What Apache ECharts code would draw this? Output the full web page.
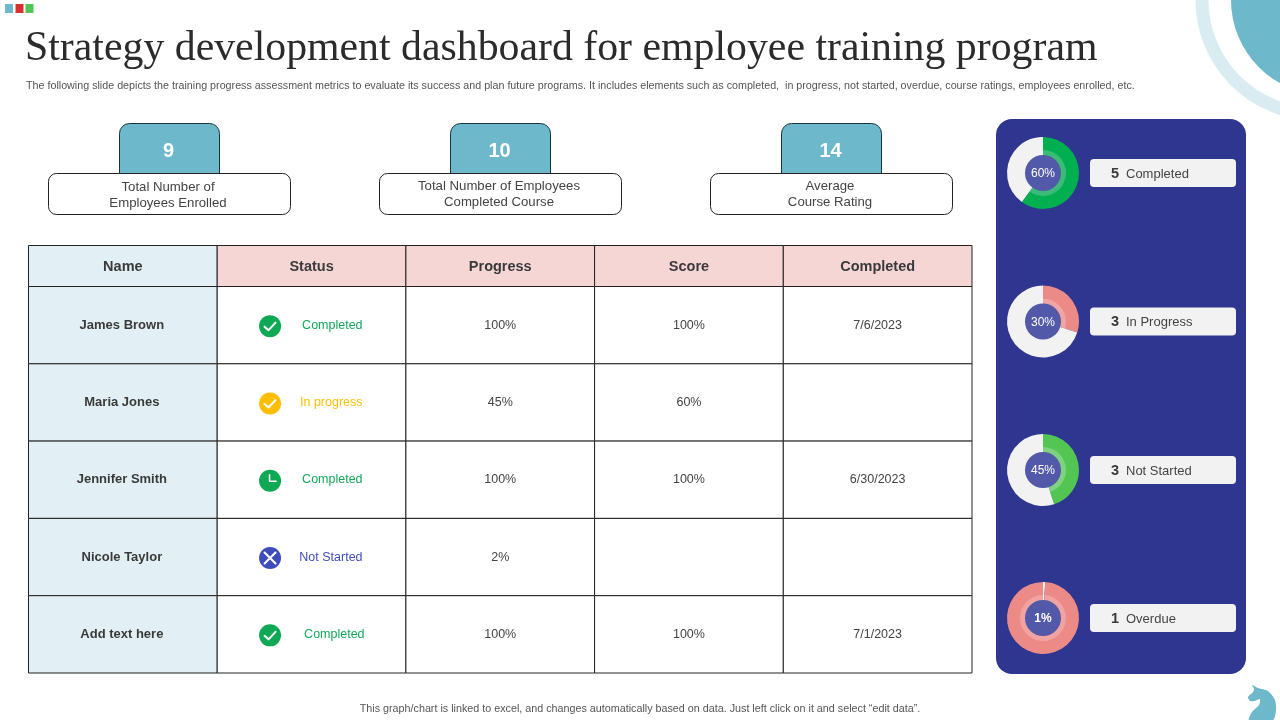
<!DOCTYPE html>
<html><head><meta charset="utf-8">
<style>html,body{margin:0;padding:0;background:#fff}#c{width:1280px;height:720px}</style>
<script src="https://cdn.jsdelivr.net/npm/echarts@6/dist/echarts.min.js"></script>
</head><body><div id="c"></div>
<script>
const titleText = 'Strategy development dashboard for employee training program';
const subtitleText = 'The following slide depicts the training progress assessment metrics to evaluate its success and plan future programs. It includes elements such as completed,  in progress, not started, overdue, course ratings, employees enrolled, etc.';
const footerText = 'This graph/chart is linked to excel, and changes automatically based on data. Just left click on it and select \u201cedit data\u201d.';
const kpiValues = ['9', '10', '14'];
const kpiLabels = ['Total Number of\nEmployees Enrolled', 'Total Number of Employees\nCompleted Course', 'Average\nCourse Rating'];
const columns = ['Name', 'Status', 'Progress', 'Score', 'Completed'];
const names = ['James Brown', 'Maria Jones', 'Jennifer Smith', 'Nicole Taylor', 'Add text here'];
const statuses = ['Completed', 'In progress', 'Completed', 'Not Started', 'Completed'];
const statusIcons = ['check', 'check', 'clock', 'cross', 'check'];
const progress = ['100%', '45%', '100%', '2%', '100%'];
const scores = ['100%', '60%', '100%', '', '100%'];
const dates = ['7/6/2023', '', '6/30/2023', '', '7/1/2023'];
const donutPct = [60, 30, 45, 1];
const donutCounts = [5, 3, 3, 1];
const donutNames = ['Completed', 'In Progress', 'Not Started', 'Overdue'];

const FONT = '"Liberation Sans", Arial, sans-serif';
const statusColor = {'Completed':'#12a85a','In progress':'#ffbf00','Not Started':'#3f4dbb'};
const TEAL = '#6db8cb';
const LINE = '#222222';

const chart = echarts.init(document.getElementById('c'), null, {renderer:'canvas', width:1280, height:720});

function iconChildren(kind, cx, cy, fill){
  const kids = [{type:'circle', shape:{cx, cy, r:11}, style:{fill}}];
  const st = {fill:'none', stroke:'#fff', lineWidth:2, lineCap:'round', lineJoin:'round'};
  if(kind==='check') kids.push({type:'polyline', shape:{points:[[cx-5.5,cy+0.5],[cx-1.5,cy+4],[cx+5.5,cy-3.5]]}, style:st});
  if(kind==='clock') kids.push({type:'polyline', shape:{points:[[cx-0.5,cy-6],[cx-0.5,cy+0.5],[cx+6,cy+0.5]]}, style:{...st,lineWidth:1.6}});
  if(kind==='cross'){
    kids.push({type:'line', shape:{x1:cx-5.5,y1:cy-5.5,x2:cx+5.5,y2:cy+5.5}, style:st});
    kids.push({type:'line', shape:{x1:cx-5.5,y1:cy+5.5,x2:cx+5.5,y2:cy-5.5}, style:st});
  }
  return kids;
}

const bodyCells = [];
names.forEach((n,r)=>{
  [n, statuses[r], progress[r], scores[r], dates[r]].forEach((v,c)=>{
    bodyCells.push([columns[c], String(r), v, r]);
  });
});
const headCells = columns.map(c=>[c,'h',c,0]);

function renderCell(isHead){
  return function(params, api){
    const col = api.value(0), row = api.value(1);
    const p = api.coord([col,row]);
    const s = api.size([1,1]);
    const x = p[0]-s[0]/2, y = p[1]-s[1]/2;
    const colIdx = col;
    const txt = (isHead?headCells:bodyCells)[params.dataIndex][2];
    const rowIdx = (isHead?0:bodyCells[params.dataIndex][3]);
    let fill = '#ffffff';
    if(isHead) fill = colIdx===0 ? '#e2f0f5' : '#f6d5d5';
    else if(colIdx===0) fill = '#e2f0f5';
    const kids = [{type:'rect', shape:{x,y,width:s[0],height:s[1]}, style:{fill, stroke:LINE, lineWidth:1}}];
    if(!isHead && colIdx===1){
      const col0 = statusColor[txt];
      kids.push(...iconChildren(statusIcons[rowIdx], p[0]-41.5, p[1]+1, col0==='#12a85a'?'#0fa855':col0));
      kids.push({type:'text', style:{text:txt, x:p[0]+51+(rowIdx===4?2:0), y:p[1], align:'right', verticalAlign:'middle', fill:col0, font:'12.5px '+FONT}});
    } else if(txt){
      const bold = isHead || colIdx===0;
      kids.push({type:'text', style:{text:txt, x:p[0]+(isHead?0:(colIdx===0?-1:0)), y:p[1]+(isHead?1:0), align:'center', verticalAlign:'middle',
        fill: bold?'#3a3a3a':'#444444', font:(bold?'bold ':'')+(isHead?'14.5px ':(colIdx===0?'13px ':'12.5px '))+FONT}});
    }
    return {type:'group', children:kids};
  };
}

const donutColors = [
  {main:'#00b050', ring:'#3cbb78', rest:'#f2f2f2'},
  {main:'#ec8a87', ring:'#eea5a3', rest:'#f2f2f2'},
  {main:'#52c552', ring:'#7fd27f', rest:'#f2f2f2'},
  {main:'#f2f2f2', ring:'#f2f2f2', rest:'#ec8a87', restRing:'#f0a3a1'}
];
const donutY = [173, 321.5, 470, 618];
const donutSeries = [];
donutPct.forEach((v,i)=>{
  const c = donutColors[i];
  const center = [1043, donutY[i]];
  const base = {type:'pie', center, startAngle:90, clockwise:true, silent:true, animation:false, label:{show:false}, labelLine:{show:false}, z:5};
  donutSeries.push({...base, radius:[22,36], data:[
    {value:v, itemStyle:{color:c.main}},{value:100-v, itemStyle:{color:c.rest}}]});
  donutSeries.push({...base, radius:[17,23], data:[
    {value:v, itemStyle:{color:c.ring}},{value:100-v, itemStyle:{color:c.restRing||c.rest}}]});
  donutSeries.push({...base, radius:[0,18], z:6, data:[{value:v, itemStyle:{color:'#5159a8'}}],
    label:{show:true, position:'center', offset:[0,1], formatter:v+'%', color:'#fff', fontFamily:FONT, fontSize:12, fontWeight:i===3?'bold':'normal', textBorderWidth:0}});
});

const graphics = [
  {type:'rect', shape:{x:5,y:4,width:8,height:9}, style:{fill:TEAL}},
  {type:'rect', shape:{x:15.5,y:4,width:8,height:9}, style:{fill:'#d9302f'}},
  {type:'rect', shape:{x:25.5,y:4,width:8,height:9}, style:{fill:'#52c552'}},
  {type:'circle', shape:{cx:1316,cy:0,r:114}, style:{fill:'none', stroke:'#d9ecf1', lineWidth:13}},
  {type:'circle', shape:{cx:1326,cy:0,r:95}, style:{fill:TEAL}},
  {type:'text', style:{text:titleText, x:25, y:49, verticalAlign:'middle', fill:'#2b2b2b', font:'41.8px "Liberation Serif", serif'}},
  {type:'text', style:{text:subtitleText, x:26, y:86, verticalAlign:'middle', fill:'#555555', font:'10.72px '+FONT}},
  {type:'text', style:{text:footerText, x:640, y:709, align:'center', verticalAlign:'middle', fill:'#555555', font:'10.75px '+FONT}},
  {type:'rect', shape:{x:996,y:119,width:250,height:555,r:16}, style:{fill:'#2e3690'}, z:1},
  {type:'polygon', shape:{smooth:0.25, points:[[1252,685],[1258,688],[1268,691],[1275,700],[1276,710],[1273,720],[1249,720],[1252,712],[1259,705],[1260,699],[1254,701],[1250,701],[1248,697],[1253,692],[1254,689]]}, style:{fill:TEAL}}
];
const kpiX = [48, 379, 710];
kpiX.forEach((x,i)=>{
  graphics.push({type:'rect', shape:{x:x+71.5,y:123.5,width:100,height:50,r:[10,10,0,0]}, style:{fill:TEAL, stroke:'#17343d', lineWidth:1}});
  graphics.push({type:'rect', shape:{x:x+0.5,y:173.5,width:242,height:41,r:8}, style:{fill:'#fff', stroke:'#222', lineWidth:1}});
  graphics.push({type:'text', style:{text:kpiValues[i], x:x+120.5, y:151, align:'center', verticalAlign:'middle', fill:'#fff', font:'bold 20px '+FONT}});
  graphics.push({type:'text', style:{text:kpiLabels[i], x:x+120, y:195.5-(i===0?0:1), align:'center', verticalAlign:'middle', fill:'#444', lineHeight:15.5, font:'13.2px '+FONT}});
});
donutCounts.forEach((n,i)=>{
  const y = donutY[i];
  graphics.push({type:'rect', shape:{x:1090,y:y-14,width:146,height:28,r:4}, style:{fill:'#f2f2f2'}, z:2});
  graphics.push({type:'text', style:{text:String(n), x:1111, y:y+0.5, verticalAlign:'middle', fill:'#3a3a3a', font:'bold 14.5px '+FONT}, z:3});
  graphics.push({type:'text', style:{text:donutNames[i], x:1126, y:y+1, verticalAlign:'middle', fill:'#444', font:'13px '+FONT}, z:3});
});

const axisOff = {show:false};
chart.setOption({
  animation:false,
  backgroundColor:'#ffffff',
  graphic:{elements:graphics},
  grid:[
    {left:28.5, width:943.5, top:245.5, height:41},
    {left:28.5, width:943.5, top:286.5, height:386.5}
  ],
  xAxis:[
    {type:'category', gridIndex:0, data:columns, ...axisOff},
    {type:'category', gridIndex:1, data:columns, ...axisOff}
  ],
  yAxis:[
    {type:'category', gridIndex:0, data:['h'], ...axisOff},
    {type:'category', gridIndex:1, data:['0','1','2','3','4'], inverse:true, ...axisOff}
  ],
  series:[
    {type:'custom', xAxisIndex:0, yAxisIndex:0, data:headCells.map(d=>[columns.indexOf(d[0]),0]), renderItem:renderCell(true), silent:true, encode:{x:0,y:1}},
    {type:'custom', xAxisIndex:1, yAxisIndex:1, data:bodyCells.map(d=>[columns.indexOf(d[0]),+d[1]]), renderItem:renderCell(false), silent:true, encode:{x:0,y:1}},
    ...donutSeries
  ]
});
</script></body></html>
